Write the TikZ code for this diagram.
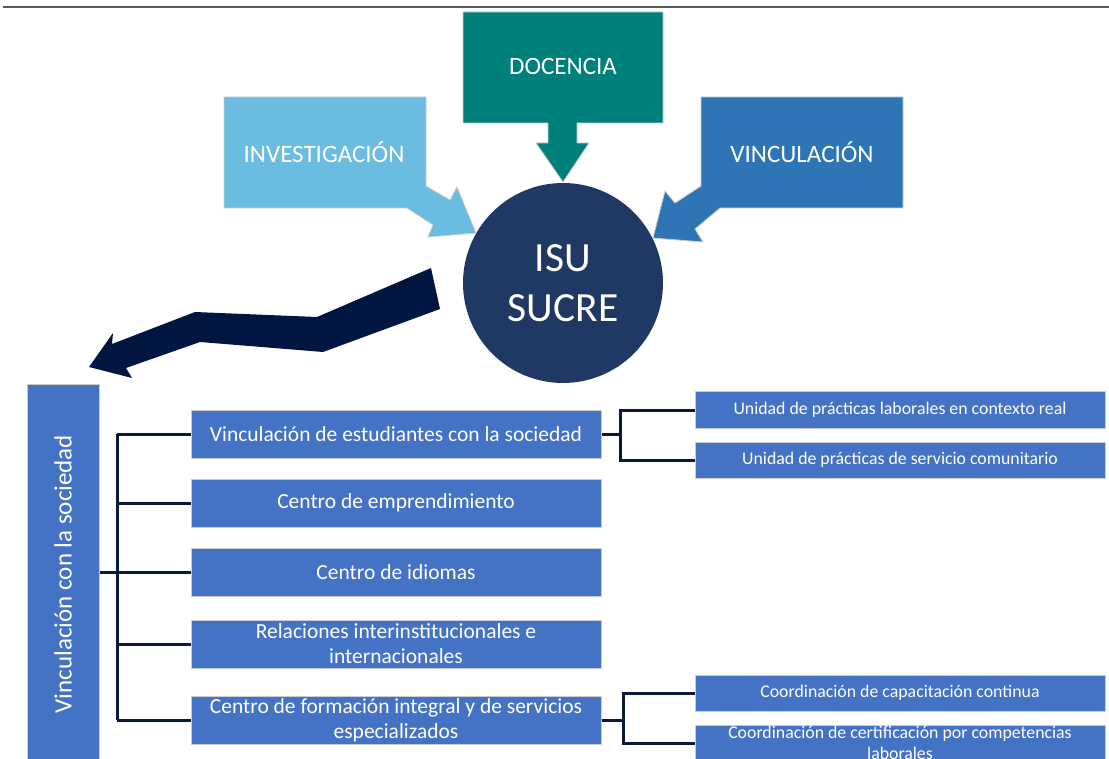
\documentclass[tikz,border=0pt]{standalone}
\usepackage{fontspec}
\setmainfont{Carlito}
\usetikzlibrary{positioning,calc}
\definecolor{isunavy}{RGB}{32,56,100}
\definecolor{arrownavy}{RGB}{0,22,64}
\definecolor{linenavy}{RGB}{12,26,58}
\definecolor{docteal}{RGB}{0,128,122}
\definecolor{invblue}{RGB}{107,188,225}
\definecolor{vinblue}{RGB}{46,117,182}
\definecolor{boxblue}{RGB}{68,114,196}
\definecolor{boxedge}{RGB}{205,205,205}

\begin{document}
\begin{tikzpicture}[x=1pt, y=-1pt,
    unitbox/.style={rectangle, fill=boxblue, draw=boxedge, line width=1pt, text=white,
        minimum width=410pt, minimum height=48pt, inner sep=1pt, align=center,
        font=\fontsize{21.5}{25}\selectfont},
    subbox/.style={unitbox, minimum height=36pt, font=\fontsize{17.8}{21}\selectfont},
    callout/.style={draw=boxedge, line width=0.8pt},
    calltext/.style={text=white, font=\fontsize{25}{29}\selectfont},
    branch/.style={draw=linenavy, line width=3pt}]
    \useasboundingbox (0,0) rectangle (1109,759);
    \clip (0,0) rectangle (1109,759);

    % top rule
    \draw[line width=2pt, black!65] (3,7) -- (1109,7);

    % callouts
    \fill[docteal, callout] (463,12) -- (663,12) -- (663,123) -- (577,123) -- (577,143)
        -- (589,143) -- (563,182) -- (536,143) -- (548,143) -- (548,123) -- (463,123) -- cycle;
    \fill[invblue, callout] (224,97) -- (426,97) -- (426,186) -- (450,200) -- (457,187)
        -- (476,233) -- (428,237) -- (433,225) -- (407,208) -- (224,208) -- cycle;
    \fill[vinblue, callout] (701,97) -- (903,97) -- (903,208) -- (720,208) -- (695,229)
        -- (703,242) -- (653,238) -- (665,191) -- (675,203) -- (701,186) -- cycle;
    \node[calltext] (docencia) at (563,66) {DOCENCIA};
    \node[calltext] (investigacion) at (324,152) {INVESTIGACIÓN};
    \node[calltext] (vinculacion) at (802,152) {VINCULACIÓN};

    % centre
    \node[circle, fill=isunavy, minimum size=200pt, text=white, align=center,
        font=\fontsize{41.5}{50}\selectfont] (isu) at (563,283) {ISU\\SUCRE};

    % bent arrow
    \fill[arrownavy] (431,268) -- (440,309) -- (323,352) -- (200,342) -- (126,368)
        -- (132,378) -- (89,367) -- (113,333) -- (112,344) -- (195,312) -- (317,317) -- cycle;

    % tree
    \node[rectangle, fill=boxblue, draw=boxedge, line width=1pt, minimum width=72pt,
        minimum height=385pt] (vs) at (63,577) {};
    \node[rotate=90, text=white, font=\fontsize{25}{29}\selectfont] (vstext) at (63,574)
        {Vinculación con la sociedad};

    \node[unitbox] (b1) at (396,434) {Vinculación de estudiantes con la sociedad};
    \node[unitbox] (b2) at (396,503) {Centro de emprendimiento};
    \node[unitbox] (b3) at (396,572) {Centro de idiomas};
    \node[unitbox] (b4) at (396,644) {Relaciones interinstitucionales e\\internacionales};
    \node[unitbox] (b5) at (396,720) {Centro de formación integral y de servicios\\especializados};

    \node[subbox] (r1) at (900,410) {Unidad de prácticas laborales en contexto real};
    \node[subbox] (r2) at (900,460) {Unidad de prácticas de servicio comunitario};
    \node[subbox] (r3) at (900,693) {Coordinación de capacitación continua};
    \node[subbox, inner ysep=0pt] (r4) at (900,743) {Coordinación de certificación por competencias\\laborales};

    \coordinate (trunk) at (117,0);
    \draw[branch] (vs.east |- b3.west) -- (b3.west);
    \draw[branch] (trunk |- b1.west) -- (trunk |- b5.west);
    \foreach \b in {b1,b2,b4,b5}
        \draw[branch] (trunk |- \b.west) -- (\b.west);

    \draw[branch] (b1.east) -- ++(19,0) coordinate (j1) |- (r1.west);
    \draw[branch] (j1) |- (r2.west);
    \draw[branch] (b5.east) -- ++(22,0) coordinate (j5) |- (r3.west);
    \draw[branch] (j5) |- (r4.west);
\end{tikzpicture}
\end{document}
